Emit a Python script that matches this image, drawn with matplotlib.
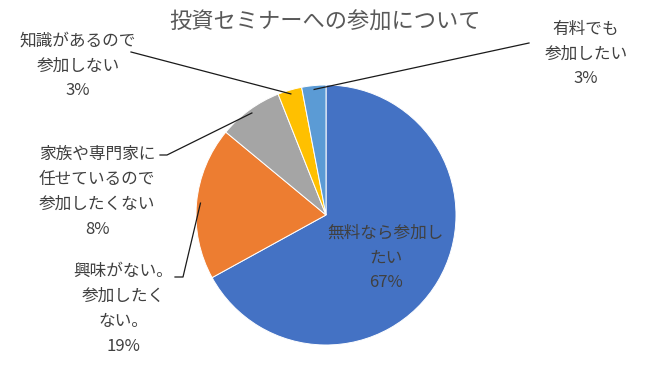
import numpy as np
import matplotlib
matplotlib.use("Agg")
import matplotlib.pyplot as plt

plt.rcParams['font.family'] = ['Noto Sans CJK JP', 'DejaVu Sans']

title = "投資セミナーへの参加について"
categories = ["無料なら参加し\nたい", "興味がない。\n参加したく\nない。",
              "家族や専門家に\n任せているので\n参加したくない", "知識があるので\n参加しない",
              "有料でも\n参加したい"]
values = [67, 19, 8, 3, 3]
colors = ["#4472C4", "#ED7D31", "#A5A5A5", "#FFC000", "#5B9BD5"]

W, H = 650, 380
fig = plt.figure(figsize=(W / 100, H / 100), dpi=100)

cx, cy, r = 326, 215, 130
ax = fig.add_axes([(cx - r) / W, (H - cy - r) / H, 2 * r / W, 2 * r / H])
wedges, _ = ax.pie(values, colors=colors, startangle=90, counterclock=False,
                   wedgeprops=dict(edgecolor="white", linewidth=0.7))
ax.set_xlim(-1, 1)
ax.set_ylim(-1, 1)
ax.axis("off")

txt_color = "#404040"
fs = 12

fig.text(325 / W, 1 - 22 / H, title, ha="center", va="center",
         fontsize=16, color="#595959")

# label centre positions (pixels from top-left) and leader line start points
label_pos = [(386, 258), (123, 309), (97, 192), (78, 66), (586, 54)]
leader_start = [None, (175, 277), (160, 155), (131, 52), (529, 43)]
leader_hook = [None, 8, 7, 0, 0]

to_data = ax.transData.inverted()
for i, w in enumerate(wedges):
    lx, ly = label_pos[i]
    fig.text(lx / W, 1 - ly / H, f"{categories[i]}\n{values[i]}%", ha="center",
             va="center", fontsize=fs, color=txt_color, linespacing=1.6)
    if leader_start[i] is None:
        continue
    ang = np.deg2rad((w.theta1 + w.theta2) / 2)
    ex, ey = 0.97 * np.cos(ang), 0.97 * np.sin(ang)
    sx, sy = leader_start[i]
    p0 = to_data.transform((sx, H - sy))
    p1 = to_data.transform((sx + leader_hook[i], H - sy))
    ax.plot([p0[0], p1[0], ex], [p0[1], p1[1], ey], color="#1a1a1a",
            lw=0.9, clip_on=False)

fig.savefig("out.png", dpi=100)
